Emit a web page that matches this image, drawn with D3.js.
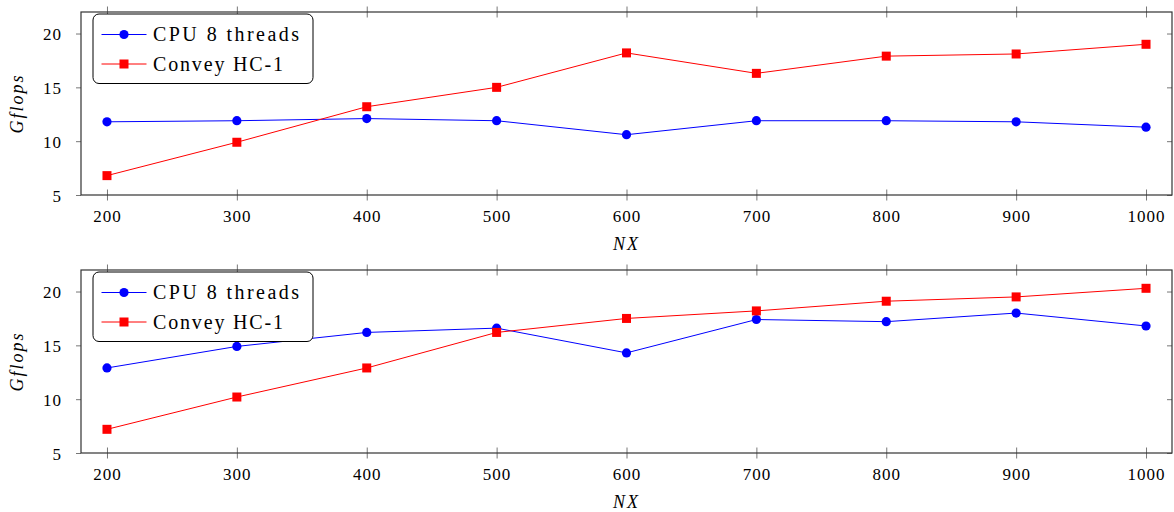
<!DOCTYPE html>
<html>
<head>
<meta charset="utf-8">
<script src="https://cdn.jsdelivr.net/npm/d3@7"></script>
<style>
  body { margin: 0; background: #fff; }
  svg { display: block; }
</style>
</head>
<body>
<svg id="chart" width="1174" height="512"></svg>
<script>
'use strict';

// problem size on the x axis
const sizes = [200, 300, 400, 500, 600, 700, 800, 900, 1000];

// upper panel
const cpuTop = [11.8, 11.9, 12.1, 11.9, 10.6, 11.9, 11.9, 11.8, 11.3];
const conveyTop = [6.8, 9.9, 13.2, 15.0, 18.2, 16.3, 17.9, 18.1, 19.0];

// lower panel
const cpuBottom = [12.9, 14.9, 16.2, 16.6, 14.3, 17.4, 17.2, 18.0, 16.8];
const conveyBottom = [7.2, 10.2, 12.9, 16.2, 17.5, 18.2, 19.1, 19.5, 20.3];

const yTicks = [5, 10, 15, 20];
const seriesNames = ['CPU 8 threads', 'Convey HC-1'];
const xLabel = 'NX';
const yLabel = 'Gflops';

const serif = "'Liberation Serif', 'Times New Roman', Times, 'DejaVu Serif', 'Noto Serif', serif";

const svg = d3.select('#chart');
const left = 81;
const right = 1172;
const panelHeight = 183;
const panelTops = [12, 270];

const x = d3.scaleLinear().domain([180, 1020]).range([left, right]);

/**
 * Draws one of the two stacked line charts
 * @param top pixel position of the panel's top edge
 * @param cpu values of the CPU series
 * @param convey values of the Convey series
 */
function drawPanel(top, cpu, convey) {
  const bottom = top + panelHeight;
  const y = d3.scaleLinear().domain([5, 22]).range([bottom, top]);
  const g = svg.append('g');

  // x ticks, bottom edge (with labels)
  const xb = g.append('g')
    .attr('transform', `translate(0,${bottom})`)
    .call(d3.axisBottom(x).tickValues(sizes).tickSizeOuter(0).tickFormat(d3.format('d')));
  xb.attr('font-family', null).attr('font-size', null);
  xb.select('.domain').remove();
  xb.selectAll('.tick line').attr('y1', -5.5).attr('y2', 5.5).attr('stroke', '#777');
  xb.selectAll('.tick text')
    .attr('y', 27).attr('dy', 0)
    .style('font-family', serif).style('font-size', '17px')
    .attr('letter-spacing', 1);

  // x ticks, top edge
  const xt = g.append('g')
    .attr('transform', `translate(0,${top})`)
    .call(d3.axisTop(x).tickValues(sizes).tickSizeOuter(0).tickFormat(''));
  xt.select('.domain').remove();
  xt.selectAll('.tick line').attr('y1', -5.5).attr('y2', 5.5).attr('stroke', '#777');

  // y ticks, left edge (with labels)
  const yl = g.append('g')
    .attr('transform', `translate(${left},0)`)
    .call(d3.axisLeft(y).tickValues(yTicks).tickSizeOuter(0).tickSizeInner(5));
  yl.attr('font-family', null).attr('font-size', null);
  yl.select('.domain').remove();
  yl.selectAll('.tick line').attr('stroke', '#777');
  yl.selectAll('.tick text')
    .attr('x', -19).attr('dy', '0.36em')
    .style('font-family', serif).style('font-size', '17px')
    .attr('letter-spacing', 1);

  // y ticks, right edge
  const yr = g.append('g')
    .attr('transform', `translate(${right},0)`)
    .call(d3.axisLeft(y).tickValues(yTicks).tickSizeOuter(0).tickSizeInner(5).tickFormat(''));
  yr.select('.domain').remove();
  yr.selectAll('.tick line').attr('stroke', '#777');

  // frame
  g.append('rect')
    .attr('x', left).attr('y', top)
    .attr('width', right - left).attr('height', panelHeight)
    .attr('fill', 'none').attr('stroke', '#333').attr('stroke-width', 1.2);

  const line = d3.line().x((d, i) => x(sizes[i])).y(d => y(d));

  // CPU series
  g.append('path').datum(cpu)
    .attr('d', line).attr('fill', 'none').attr('stroke', '#0000ff').attr('stroke-width', 1);
  g.append('g').selectAll('circle').data(cpu).join('circle')
    .attr('cx', (d, i) => x(sizes[i])).attr('cy', d => y(d))
    .attr('r', 4.6).attr('fill', '#0000ff');

  // Convey series
  g.append('path').datum(convey)
    .attr('d', line).attr('fill', 'none').attr('stroke', '#ff0000').attr('stroke-width', 1);
  g.append('g').selectAll('rect').data(convey).join('rect')
    .attr('x', (d, i) => x(sizes[i]) - 4.5).attr('y', d => y(d) - 4.5)
    .attr('width', 9).attr('height', 9).attr('fill', '#ff0000');

  // legend
  const lg = g.append('g').attr('transform', `translate(0,${top})`);
  lg.append('rect')
    .attr('x', 93).attr('y', 2)
    .attr('width', 220).attr('height', 69.5)
    .attr('rx', 6).attr('ry', 6)
    .attr('fill', '#fff').attr('stroke', '#000').attr('stroke-width', 1);

  const entries = [
    { name: seriesNames[0], color: '#0000ff', mark: 'circle', cy: 22.5, len: 146 },
    { name: seriesNames[1], color: '#ff0000', mark: 'square', cy: 52, len: 130 }
  ];
  entries.forEach(e => {
    lg.append('line')
      .attr('x1', 101.5).attr('x2', 146.5)
      .attr('y1', e.cy).attr('y2', e.cy)
      .attr('stroke', e.color).attr('stroke-width', 1);
    if (e.mark === 'circle') {
      lg.append('circle').attr('cx', 124).attr('cy', e.cy).attr('r', 4.6).attr('fill', e.color);
    } else {
      lg.append('rect').attr('x', 119.5).attr('y', e.cy - 4.5)
        .attr('width', 9).attr('height', 9).attr('fill', e.color);
    }
    lg.append('text')
      .attr('x', 153).attr('y', e.cy + 6.5)
      .style('font-family', serif).style('font-size', '20px')
      .attr('textLength', e.len).attr('lengthAdjust', 'spacing')
      .text(e.name);
  });

  // axis titles
  g.append('text')
    .attr('x', (left + right) / 2).attr('y', bottom + 55)
    .attr('text-anchor', 'middle')
    .style('font-family', serif).style('font-size', '18px').style('font-style', 'italic')
    .attr('letter-spacing', 2)
    .text(xLabel);

  g.append('text')
    .attr('transform', `translate(23,${(top + bottom) / 2}) rotate(-90)`)
    .attr('text-anchor', 'middle')
    .style('font-family', serif).style('font-size', '18px').style('font-style', 'italic')
    .attr('letter-spacing', 2)
    .text(yLabel);
}

drawPanel(panelTops[0], cpuTop, conveyTop);
drawPanel(panelTops[1], cpuBottom, conveyBottom);
</script>
</body>
</html>
